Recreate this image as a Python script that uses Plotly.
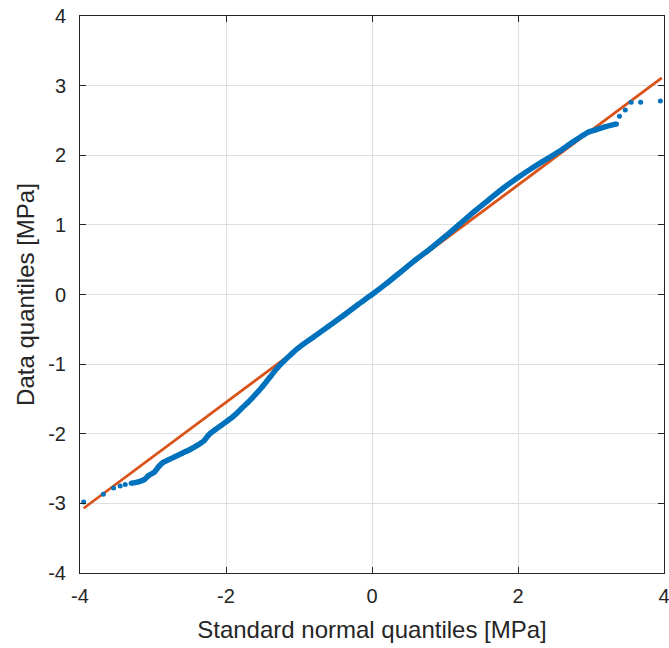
import plotly.graph_objects as go

# Sparse lower-tail sample quantiles
tail_lo_x = [-3.95, -3.68, -3.54, -3.45, -3.38]
tail_lo_y = [-2.98, -2.87, -2.78, -2.75, -2.73]

# Dense central body of sample quantiles
body_x = [-3.30, -3.20, -3.12, -3.06, -2.98, -2.92, -2.86, -2.78, -2.70, -2.60,
          -2.50, -2.40, -2.30, -2.24, -2.16, -2.08, -2.00, -1.90, -1.80, -1.70,
          -1.60, -1.50, -1.40, -1.30, -1.20, -1.10, -1.00, -0.80, -0.60, -0.40,
          -0.20, 0.00, 0.20, 0.40, 0.60, 0.80, 1.00, 1.20, 1.40, 1.60,
          1.80, 2.00, 2.20, 2.40, 2.60, 2.75, 2.88, 2.96, 3.05, 3.20, 3.35]
body_y = [-2.71, -2.69, -2.66, -2.60, -2.55, -2.47, -2.41, -2.37, -2.33, -2.28,
          -2.23, -2.17, -2.10, -2.02, -1.95, -1.89, -1.83, -1.75, -1.65, -1.55,
          -1.44, -1.32, -1.19, -1.06, -0.95, -0.85, -0.76, -0.61, -0.46, -0.31,
          -0.15, 0.00, 0.16, 0.33, 0.50, 0.66, 0.83, 1.01, 1.19, 1.36,
          1.53, 1.68, 1.82, 1.95, 2.08, 2.19, 2.28, 2.33, 2.36, 2.41, 2.45]

# Sparse upper-tail sample quantiles
tail_hi_x = [3.39, 3.47, 3.55, 3.68, 3.95]
tail_hi_y = [2.56, 2.65, 2.76, 2.76, 2.78]

# Reference line endpoints
line_x = [-3.95, 3.97]
line_y = [-3.07, 3.11]

x_ticks = [-4, -2, 0, 2, 4]
x_labels = ["-4", "-2", "0", "2", "4"]
y_ticks = [-4, -3, -2, -1, 0, 1, 2, 3, 4]
y_labels = ["-4", "-3", "-2", "-1", "0", "1", "2", "3", "4"]

BLUE = "#0072BD"
RED = "#D95319"
AX = "#262626"
FONT = "Liberation Sans, Arial, Helvetica, sans-serif"

fig = go.Figure()
fig.add_trace(go.Scatter(x=line_x, y=line_y, mode="lines",
                         line=dict(color=RED, width=2.8), showlegend=False))
fig.add_trace(go.Scatter(x=body_x, y=body_y, mode="lines+markers",
                         line=dict(color=BLUE, width=5.5, shape="spline", smoothing=0.6),
                         marker=dict(color=BLUE, size=5), showlegend=False))
fig.add_trace(go.Scatter(x=tail_lo_x + tail_hi_x, y=tail_lo_y + tail_hi_y,
                         mode="markers", marker=dict(color=BLUE, size=5),
                         showlegend=False))

axis_common = dict(
    showgrid=True, gridcolor="#dfdfdf", gridwidth=1, automargin=False,
    zeroline=False, showline=True, linecolor=AX, linewidth=1,
    mirror="ticks", ticks="inside", ticklen=6, tickwidth=1, tickcolor=AX,
    tickfont=dict(family=FONT, size=20, color=AX),
    ticklabeloverflow="allow",
)

fig.update_layout(
    width=669, height=648,
    margin=dict(l=80, r=5, t=16, b=75),
    paper_bgcolor="white", plot_bgcolor="white",
    font=dict(family=FONT, color=AX),
    xaxis=dict(range=[-4, 4], tickvals=x_ticks, ticktext=x_labels,
               ticklabelstandoff=5,
               title=dict(text="Standard normal quantiles [MPa]",
                          font=dict(family=FONT, size=24, color=AX), standoff=15),
               **axis_common),
    yaxis=dict(range=[-4, 4], tickvals=y_ticks, ticktext=y_labels,
               ticklabelstandoff=9,
               title=dict(text="Data quantiles [MPa]",
                          font=dict(family=FONT, size=24, color=AX), standoff=6),
               **axis_common),
)

fig.write_html("out.html",
               config={"displayModeBar": False},
               post_script="document.body.style.margin='0';document.body.style.overflow='hidden';")
